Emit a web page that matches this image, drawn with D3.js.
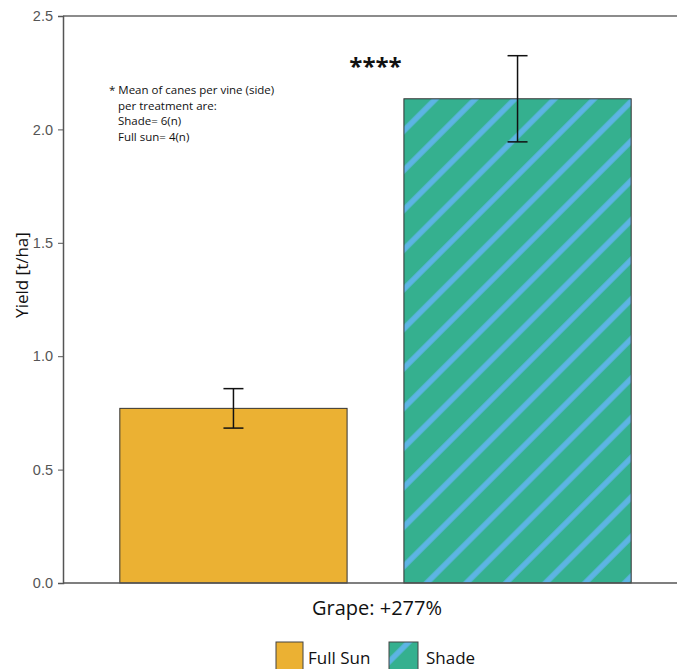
<!DOCTYPE html>
<html><head><meta charset="utf-8">
<script src="https://cdn.jsdelivr.net/npm/d3@7"></script>
<style>body{margin:0;background:#fff}svg{display:block;font-family:"Open Sans","Noto Sans",sans-serif}</style>
</head><body><svg id="c" width="677" height="669"></svg>
<script>
const categories = ["Full Sun", "Shade"];
const values = [0.77, 2.135];
const errors = [0.087, 0.19];
const yTicks = [0.0, 0.5, 1.0, 1.5, 2.0, 2.5];
const xLabel = "Grape: +277%";
const yLabel = "Yield [t/ha]";
const significance = "****";
const noteLines = ["* Mean of canes per vine (side)", "   per treatment are:", "   Shade= 6(n)", "   Full sun= 4(n)"];

(function () {
const svg = d3.select("#c");
const mL = 63, mR = 688, mT = 16, mB = 583;
const x = d3.scaleBand().domain(categories).range([mL, mR]).paddingInner(0.2).paddingOuter(0.2);
const y = d3.scaleLinear().domain([0, 2.5]).range([mB, mT]);
const fills = ["#ebb133", "#35b08f"];

const defs = svg.append("defs");
const pat = defs.append("pattern").attr("id", "hatch").attr("patternUnits", "userSpaceOnUse")
  .attr("width", 28).attr("height", 28).attr("patternTransform", "rotate(45)");
pat.append("rect").attr("width", 28).attr("height", 28).attr("fill", "#35b08f");
pat.append("line").attr("x1", 14).attr("y1", 0).attr("x2", 14).attr("y2", 28)
  .attr("stroke", "#5db4e4").attr("stroke-width", 5.5);
const fillFor = i => i === 1 ? "url(#hatch)" : fills[0];

svg.append("line").attr("x1", mL).attr("x2", mR).attr("y1", mT).attr("y2", mT).attr("stroke", "#666").attr("stroke-width", 1.5);
svg.selectAll("rect.bar").data(values).join("rect").attr("class", "bar")
  .attr("x", (d, i) => x(categories[i])).attr("width", x.bandwidth())
  .attr("y", d => y(d)).attr("height", d => y(0) - y(d))
  .attr("fill", (d, i) => fillFor(i)).attr("stroke", "#333").attr("stroke-width", 1);

const yAxis = svg.append("g").attr("transform", `translate(${mL},0)`)
  .call(d3.axisLeft(y).tickValues(yTicks).tickFormat(d3.format(".1f")).tickSize(5).tickPadding(5));
yAxis.select(".domain").attr("stroke", "#555").attr("stroke-width", 1.5);
yAxis.selectAll(".tick line").attr("stroke", "#555");
yAxis.selectAll("text").attr("fill", "#555").style("font-size", "14.5px").style("font-family", "inherit");
svg.append("line").attr("x1", mL).attr("x2", mR).attr("y1", mB).attr("y2", mB).attr("stroke", "#555").attr("stroke-width", 1.5);

const eb = svg.selectAll("g.err").data(values).join("g").attr("class", "err");
const cx = i => x(categories[i]) + x.bandwidth() / 2;
eb.append("line").attr("x1", (d, i) => cx(i)).attr("x2", (d, i) => cx(i))
  .attr("y1", (d, i) => y(d + errors[i])).attr("y2", (d, i) => y(d - errors[i])).attr("stroke", "#111").attr("stroke-width", 1.5);
[1, -1].forEach(s => {
  eb.append("line").attr("x1", (d, i) => cx(i) - 10).attr("x2", (d, i) => cx(i) + 10)
    .attr("y1", (d, i) => y(d + s * errors[i])).attr("y2", (d, i) => y(d + s * errors[i])).attr("stroke", "#111").attr("stroke-width", 1.5);
});

const midX = (x(categories[0]) + x.bandwidth() + x(categories[1])) / 2;
svg.append("text").attr("x", midX).attr("y", 75).attr("text-anchor", "middle").style("font-size", "24px").style("font-weight", "bold").attr("fill", "#111").text(significance);

const note = svg.append("text").attr("x", 109).attr("y", 94).style("font-size", "11.5px").attr("fill", "#111");
noteLines.forEach((t, i) => note.append("tspan").attr("x", 109).attr("dy", i === 0 ? 0 : 15.5).style("white-space", "pre").text(t));

svg.append("text").attr("x", 377).attr("y", 615).attr("text-anchor", "middle").style("font-size", "20px").attr("fill", "#111").text(xLabel);
svg.append("text").attr("transform", `translate(28,275) rotate(-90)`).attr("text-anchor", "middle").style("font-size", "17px").attr("fill", "#111").text(yLabel);

const lg = svg.selectAll("g.lg").data(categories).join("g").attr("class", "lg")
  .attr("transform", (d, i) => `translate(${i === 0 ? 276 : 389},642)`);
lg.append("rect").attr("width", (d, i) => i === 0 ? 27 : 29).attr("height", 28).attr("fill", (d, i) => fillFor(i)).attr("stroke", "#444").attr("stroke-width", 1);
lg.append("text").attr("x", (d, i) => i === 0 ? 32 : 37).attr("y", 22).style("font-size", "17px").attr("fill", "#111").text(d => d);
})();
</script></body></html>
